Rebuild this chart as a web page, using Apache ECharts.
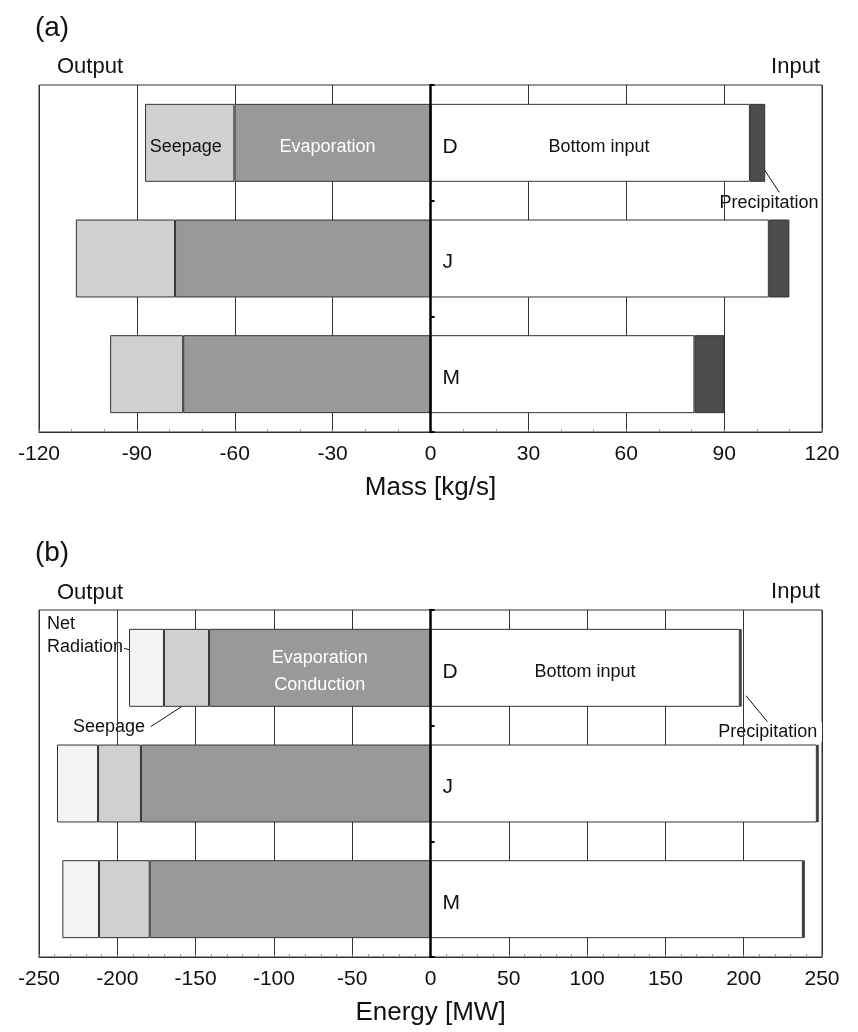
<!DOCTYPE html>
<html>
<head>
<meta charset="utf-8">
<script src="https://cdn.jsdelivr.net/npm/echarts@6/dist/echarts.min.js"></script>
<style>
html,body{margin:0;padding:0;background:#fff;}
#chart{width:858px;height:1032px;}
</style>
</head>
<body>
<div id="chart"></div>
<script>
// ---- data ----
const categories = ['D', 'J', 'M'];

// (a) Mass [kg/s]
const massBottomInput   = [97.9, 103.7, 80.9];
const massPrecipitation = [4.7, 6.3, 9.1];
const massEvaporation   = [-60.1, -78.3, -75.8];
const massSeepage       = [-27.4, -30.4, -22.4];
const massAxis = { min: -120, max: 120, interval: 30 };

// (b) Energy [MW]
const energyBottomInput   = [197.5, 246.7, 237.8];
const energyPrecipitation = [1.2, 1.2, 1.2];
const energyEvaporation   = [-141.4, -184.9, -179.3];
const energySeepage       = [-28.8, -27.4, -32.4];
const energyNetRadiation  = [-22.3, -26.2, -23.4];
const energyAxis = { min: -250, max: 250, interval: 50 };

// ---- styles ----
const FONT = 'Liberation Sans, Arial, Helvetica, sans-serif';
const C_BOTTOM = '#ffffff', C_PRECIP = '#4d4d4d', C_EVAP = '#999999', C_SEEP = '#d0d0d0', C_NR = '#f4f4f4';
const EDGE = '#333333';

function withLabel(arr, text, color, offset, extra) {
  return arr.map((v, i) => {
    if (i !== 0 || !text) return v;
    return {
      value: v,
      label: Object.assign({
        show: true, position: 'inside', formatter: text, color: color,
        fontSize: 18, fontFamily: FONT, offset: offset || [0, 0]
      }, extra || {})
    };
  });
}

function barSeries(name, data, color, xi, stack, label) {
  const s = {
    name: name, type: 'bar', stack: stack, xAxisIndex: xi, yAxisIndex: xi,
    data: data, barCategoryGap: '32.6%',
    itemStyle: { color: color, borderColor: EDGE, borderWidth: 1 },
    emphasis: { disabled: true }, silent: true, animation: false
  };
  if (label) s.label = label;
  return s;
}

// category letters (D/J/M) + "Bottom input" text on the first bar
function bottomLabel(gap) {
  return {
    show: true, position: 'insideLeft', distance: 12, offset: [0, 4],
    formatter: function (p) {
      return p.dataIndex === 0 ? '{c|' + p.name + '}{t|Bottom input}' : '{c|' + p.name + '}';
    },
    rich: {
      c: { fontSize: 21, fontFamily: FONT, color: '#111', width: gap },
      t: { fontSize: 18, fontFamily: FONT, color: '#111' }
    }
  };
}

function xAxisDef(gi, ax, minorSplit, name) {
  return {
    type: 'value', gridIndex: gi, min: ax.min, max: ax.max, interval: ax.interval,
    position: 'bottom',
    name: name, nameLocation: 'middle', nameGap: 43,
    nameTextStyle: { fontSize: 26, fontFamily: FONT, color: '#111' },
    axisLine: { show: true, onZero: false, lineStyle: { color: EDGE, width: 1 } },
    axisTick: { show: true, inside: true, length: 3, lineStyle: { color: '#666' } },
    minorTick: { show: true, splitNumber: minorSplit, length: 3, lineStyle: { color: '#999' } },
    axisLabel: { fontSize: 21, fontFamily: FONT, color: '#111', margin: 12 },
    splitLine: { show: true, lineStyle: { color: EDGE, width: 1 } }
  };
}

function yAxisDef(gi) {
  return {
    type: 'category', gridIndex: gi, data: categories, inverse: true, z: 10,
    axisLine: { show: true, onZero: true, lineStyle: { color: '#000', width: 2.5 } },
    axisTick: { show: true, inside: true, length: 4, lineStyle: { color: '#000', width: 2 } },
    axisLabel: { show: false },
    splitLine: { show: false }
  };
}

const chart = echarts.init(document.getElementById('chart'), null, { renderer: 'canvas' });

function txt(x, y, text, size, align, extra) {
  return {
    type: 'text', x: x, y: y, silent: true,
    style: Object.assign({
      text: text, font: size + 'px ' + FONT, fill: '#111',
      textAlign: align || 'center', textVerticalAlign: 'middle'
    }, extra || {})
  };
}
function line(x1, y1, x2, y2) {
  return { type: 'line', silent: true, shape: { x1: x1, y1: y1, x2: x2, y2: y2 },
           style: { stroke: '#111', lineWidth: 1 } };
}

const option = {
  animation: false,
  backgroundColor: '#fff',
  textStyle: { fontFamily: FONT },
  grid: [
    { left: 39, right: 36, top: 85, height: 347, show: true, borderColor: EDGE, borderWidth: 1, backgroundColor: 'transparent' },
    { left: 39, right: 36, top: 610, height: 347, show: true, borderColor: EDGE, borderWidth: 1, backgroundColor: 'transparent' }
  ],
  xAxis: [
    xAxisDef(0, massAxis, 3, 'Mass [kg/s]'),
    xAxisDef(1, energyAxis, 5, 'Energy [MW]')
  ],
  yAxis: [yAxisDef(0), yAxisDef(1)],
  series: [
    barSeries('Bottom input', massBottomInput, C_BOTTOM, 0, 'mass', bottomLabel(106)),
    barSeries('Precipitation', massPrecipitation, C_PRECIP, 0, 'mass'),
    barSeries('Evaporation', withLabel(massEvaporation, 'Evaporation', '#fff', [-5, 4]), C_EVAP, 0, 'mass'),
    barSeries('Seepage', withLabel(massSeepage, 'Seepage', '#111', [-4, 4]), C_SEEP, 0, 'mass'),

    barSeries('Bottom input', energyBottomInput, C_BOTTOM, 1, 'energy', bottomLabel(92)),
    barSeries('Precipitation', energyPrecipitation, C_PRECIP, 1, 'energy'),
    barSeries('Evaporation Conduction', withLabel(energyEvaporation, 'Evaporation\nConduction', '#fff', [0, 4], { lineHeight: 27 }), C_EVAP, 1, 'energy'),
    barSeries('Seepage', energySeepage, C_SEEP, 1, 'energy'),
    barSeries('Net Radiation', energyNetRadiation, C_NR, 1, 'energy')
  ],
  graphic: [
    txt(52, 28, '(a)', 28),
    txt(90, 67, 'Output', 22),
    txt(820, 67, 'Input', 22, 'right'),
    line(760.7, 164.3, 779.3, 192.3),
    txt(769, 203.5, 'Precipitation', 18, 'center', { backgroundColor: '#fff', padding: [1, 2] }),

    txt(52, 553, '(b)', 28),
    txt(90, 593, 'Output', 22),
    txt(820, 592, 'Input', 22, 'right'),
    line(124, 648.3, 142.7, 653.3),
    txt(46, 635.5, 'Net\nRadiation', 18, 'left', { backgroundColor: '#fff', lineHeight: 22.4, padding: [0, 1] }),
    line(150.7, 726.7, 186.7, 703.3),
    txt(109, 726.7, 'Seepage', 18, 'center', { backgroundColor: '#fff', padding: [1, 2] }),
    line(746, 695.7, 769.3, 724),
    txt(769.7, 731.7, 'Precipitation', 18, 'center', { backgroundColor: '#fff', padding: [1, 6, 1, 2] })
  ]
};
chart.setOption(option);
</script>
</body>
</html>
